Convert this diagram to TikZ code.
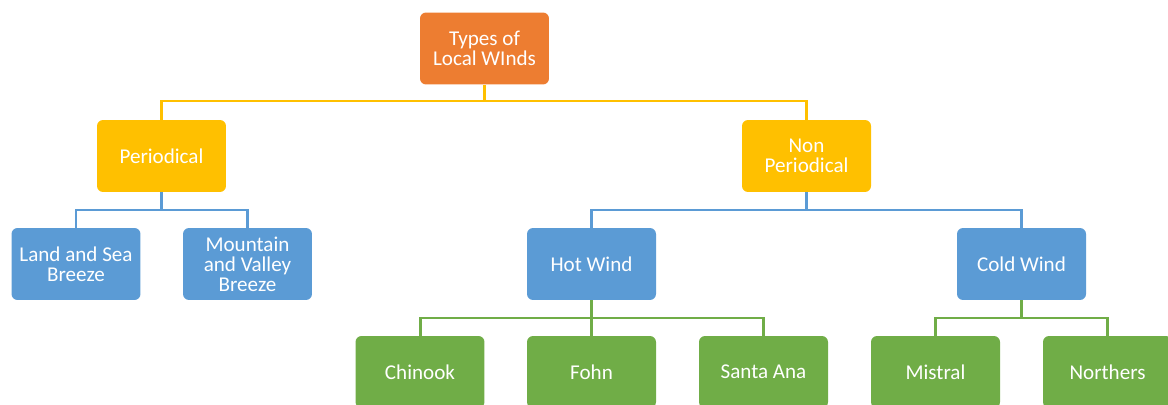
\documentclass[tikz,border=0pt]{standalone}
\usepackage{fontspec}
\setmainfont{Carlito}
\definecolor{rootorange}{HTML}{ED7D31}
\definecolor{gold}{HTML}{FFC000}
\definecolor{skyblue}{HTML}{5B9BD5}
\definecolor{leafgreen}{HTML}{70AD47}

\tikzset{every picture/.append style={x=0.02cm,y=-0.02cm}}

\begin{document}
\begin{tikzpicture}[box/.style={rounded corners=0.12cm,minimum width=2.58cm,minimum height=1.44cm,
    text=white,align=center,inner sep=0,font=\fontsize{12}{11.4}\selectfont},
    link/.style={line width=1.7pt}]
    \useasboundingbox (0,0) rectangle (1168,405);
    \clip (0,0) rectangle (1168,405);

    % boxes
    \node[box,fill=rootorange] (root) at (484.5,48.5) {Types of\\Local WInds};
    \node[box,fill=gold] (periodic) at (161.5,156) {Periodical};
    \node[box,fill=gold] (nonperiodic) at (806.5,156) {Non\\Periodical};
    \node[box,fill=skyblue] (landsea) at (76,264) {Land and Sea\\Breeze};
    \node[box,fill=skyblue] (mountain) at (247.5,264) {Mountain\\and Valley\\Breeze};
    \node[box,fill=skyblue] (hot) at (591.5,264) {Hot Wind};
    \node[box,fill=skyblue] (cold) at (1021.5,264) {Cold Wind};
    \node[box,fill=leafgreen] (chinook) at (420,372) {Chinook};
    \node[box,fill=leafgreen] (fohn) at (591.5,372) {Fohn};
    \node[box,fill=leafgreen] (santaana) at (763.5,372) {Santa Ana};
    \node[box,fill=leafgreen] (mistral) at (935.5,372) {Mistral};
    \node[box,fill=leafgreen] (northers) at (1107.5,372) {Northers};

    % bus points
    \coordinate (rootbus) at (484.5,101);
    \coordinate (periodicbus) at (161.5,210);
    \coordinate (nonperiodicbus) at (806.5,210);
    \coordinate (hotbus) at (591.5,318);
    \coordinate (coldbus) at (1021.5,318);

    \draw[link,gold] (root.south) -- (rootbus) -| (periodic.north);
    \draw[link,gold] (rootbus) -| (nonperiodic.north);
    \draw[link,skyblue] (periodic.south) -- (periodicbus) -| (landsea.north);
    \draw[link,skyblue] (periodicbus) -| (mountain.north);
    \draw[link,skyblue] (nonperiodic.south) -- (nonperiodicbus) -| (hot.north);
    \draw[link,skyblue] (nonperiodicbus) -| (cold.north);
    \draw[link,leafgreen] (hot.south) -- (hotbus) -| (chinook.north);
    \draw[link,leafgreen] (hotbus) -- (fohn.north);
    \draw[link,leafgreen] (hotbus) -| (santaana.north);
    \draw[link,leafgreen] (cold.south) -- (coldbus) -| (mistral.north);
    \draw[link,leafgreen] (coldbus) -| (northers.north);
  \end{tikzpicture}
\end{document}
